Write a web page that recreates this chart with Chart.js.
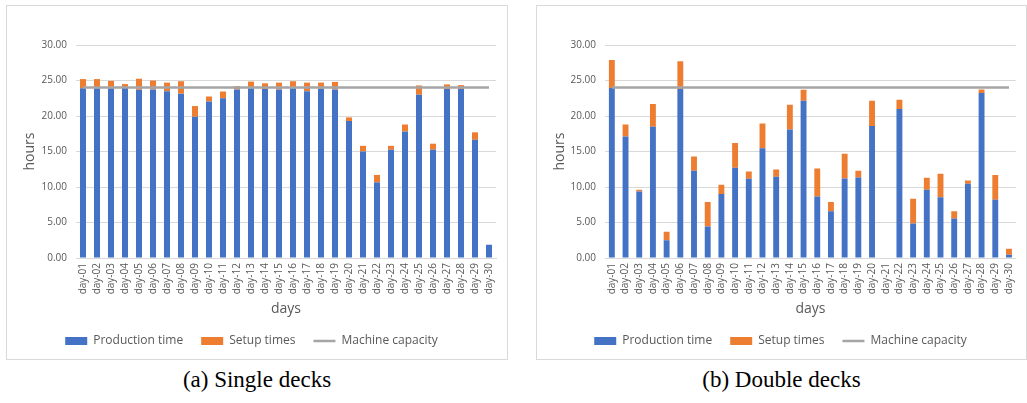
<!DOCTYPE html>
<html>
<head>
<meta charset="utf-8">
<script src="https://cdn.jsdelivr.net/npm/chart.js@4.4.0/dist/chart.umd.min.js"></script>
<style>
  body { margin: 0; background: #fff; width: 1027px; height: 403px; position: relative; overflow: hidden; }
  .box { position: absolute; top: 5px; height: 353px; border: 1px solid #D9D9D9; }
  .cap { position: absolute; top: 366px; line-height: 28px; font-family: 'Liberation Serif', serif; font-size: 23px; text-align: center; color: #000; }
</style>
</head>
<body>
<div class="box" style="left:6px; width:500px;"><canvas id="singleChart"></canvas></div>
<div class="box" style="left:536px; width:489px;"><canvas id="doubleChart"></canvas></div>
<div class="cap" style="left:6px; width:502px;">(a) Single decks</div>
<div class="cap" style="left:536px; width:491px;">(b) Double decks</div>
<script>
const days = ['day-01', 'day-02', 'day-03', 'day-04', 'day-05', 'day-06', 'day-07', 'day-08', 'day-09', 'day-10',
              'day-11', 'day-12', 'day-13', 'day-14', 'day-15', 'day-16', 'day-17', 'day-18', 'day-19', 'day-20',
              'day-21', 'day-22', 'day-23', 'day-24', 'day-25', 'day-26', 'day-27', 'day-28', 'day-29', 'day-30'];

// single decks
const singleProd  = [23.9, 23.9, 23.9, 23.95, 23.7, 23.75, 23.5, 23.15, 19.9, 22.05,
                     22.5, 23.75, 23.9, 23.8, 23.75, 23.9, 23.5, 23.85, 23.75, 19.3,
                     15.0, 10.65, 15.25, 17.8, 23.0, 15.25, 23.8, 23.8, 16.65, 1.87];
const singleSetup = [1.3, 1.3, 1.05, 0.55, 1.55, 1.25, 1.2, 1.75, 1.5, 0.7,
                     0.95, 0.45, 0.95, 0.8, 0.95, 1.0, 1.2, 0.85, 1.05, 0.5,
                     0.8, 1.05, 0.55, 1.0, 1.3, 0.85, 0.65, 0.55, 1.05, 0];

// double decks
const doubleProd  = [23.95, 17.1, 9.35, 18.5, 2.5, 23.8, 12.3, 4.45, 9.0, 12.7,
                     11.15, 15.45, 11.45, 18.1, 22.15, 8.65, 6.6, 11.2, 11.35, 18.6,
                     0, 21.0, 4.85, 9.6, 8.55, 5.55, 10.45, 23.25, 8.2, 0.45];
const doubleSetup = [3.95, 1.7, 0.25, 3.2, 1.2, 3.9, 2.0, 3.45, 1.3, 3.5,
                     1.05, 3.5, 1.0, 3.5, 1.55, 3.95, 1.3, 3.5, 0.95, 3.55,
                     0, 1.3, 3.5, 1.7, 3.3, 1.05, 0.45, 0.5, 3.5, 0.85];

const capacity = [24, 24, 24, 24, 24, 24, 24, 24, 24, 24,
                  24, 24, 24, 24, 24, 24, 24, 24, 24, 24,
                  24, 24, 24, 24, 24, 24, 24, 24, 24, 24];

const yTicks = [0, 5, 10, 15, 20, 25, 30];

const FONT = "'Open Sans', sans-serif";
const GREY = '#595959';

function makeChart(id, prod, setup, yWidth, padRight) {
    const ctx = document.getElementById(id).getContext('2d');
    return new Chart(ctx, {
        type: 'bar',
        data: {
            labels: days,
            datasets: [
                {
                    label: 'Production time',
                    data: prod,
                    backgroundColor: '#4472C4',
                    pointStyle: 'rect',
                    barPercentage: 0.43,
                    categoryPercentage: 1.0,
                    order: 1
                },
                {
                    label: 'Setup times',
                    data: setup,
                    backgroundColor: '#ED7D31',
                    pointStyle: 'rect',
                    barPercentage: 0.43,
                    categoryPercentage: 1.0,
                    order: 1
                },
                {
                    type: 'line',
                    label: 'Machine capacity',
                    data: capacity,
                    borderColor: '#A5A5A5',
                    backgroundColor: '#A5A5A5',
                    borderWidth: 2.5,
                    pointRadius: 0,
                    pointStyle: 'line',
                    stack: 'cap',
                    order: 0
                }
            ]
        },
        options: {
            responsive: true,
            maintainAspectRatio: false,
            animation: false,
            layout: { padding: { top: 39, bottom: 2, left: 0, right: padRight } },
            plugins: {
                tooltip: { enabled: false },
                legend: {
                    position: 'bottom',
                    labels: {
                        usePointStyle: true,
                        pointStyleWidth: 22,
                        boxHeight: 8,
                        padding: 18,
                        color: GREY,
                        font: { family: FONT, size: 12 },
                        sort: (a, b) => a.datasetIndex - b.datasetIndex
                    }
                }
            },
            scales: {
                x: {
                    stacked: true,
                    grid: { display: false, drawTicks: false },
                    border: { color: '#D9D9D9' },
                    ticks: {
                        autoSkip: false,
                        minRotation: 90,
                        maxRotation: 90,
                        padding: 5,
                        color: GREY,
                        font: { family: FONT, size: 10 }
                    },
                    title: {
                        display: true,
                        text: 'days',
                        color: GREY,
                        padding: { top: 0, bottom: 0 },
                        font: { family: FONT, size: 14 }
                    },
                    afterFit: (s) => { s.height = 59; }
                },
                y: {
                    stacked: true,
                    min: 0,
                    max: 30,
                    afterBuildTicks: (s) => { s.ticks = yTicks.map(v => ({ value: v })); },
                    grid: { color: '#D9D9D9', drawTicks: false },
                    border: { display: false },
                    ticks: {
                        padding: 9,
                        color: GREY,
                        font: { family: FONT, size: 10 },
                        callback: (v) => Number(v).toFixed(2)
                    },
                    title: {
                        display: true,
                        text: 'hours',
                        color: GREY,
                        padding: { top: 15, bottom: 0 },
                        font: { family: FONT, size: 14 }
                    },
                    afterFit: (s) => { s.width = yWidth; }
                }
            }
        }
    });
}

makeChart('singleChart', singleProd, singleSetup, 69, 11);
makeChart('doubleChart', doubleProd, doubleSetup, 68, 2);
</script>
</body>
</html>
